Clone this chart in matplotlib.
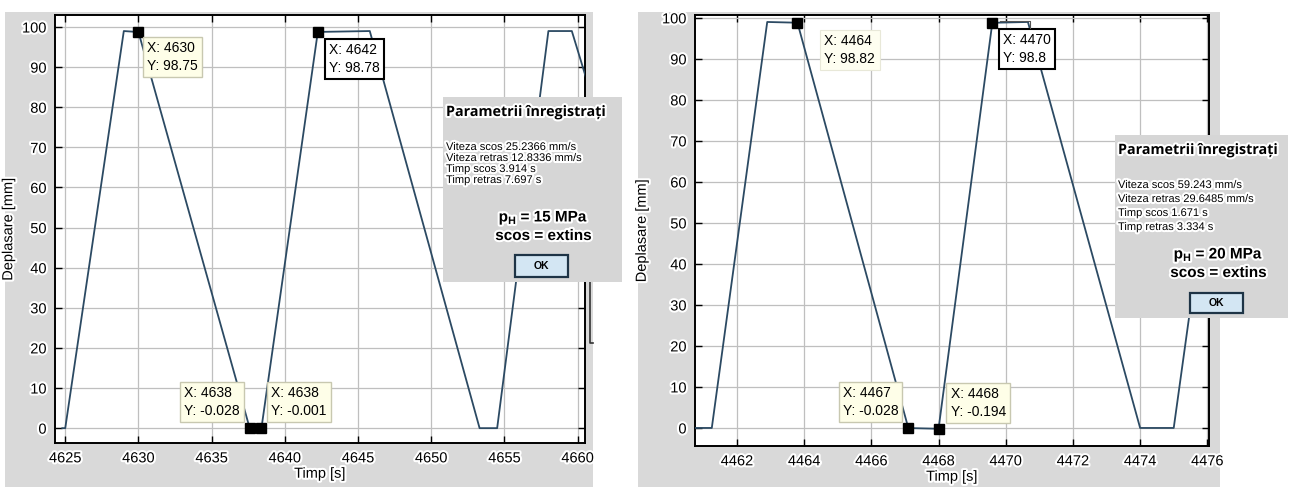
import matplotlib.pyplot as plt
from matplotlib.patches import Rectangle
import matplotlib.patheffects as pe

plt.rcParams['font.family'] = ['Liberation Sans', 'DejaVu Sans']

# left recording (pH = 15 MPa)
left_t = [4624.8, 4625.0, 4629.0, 4630.0, 4637.6, 4638.4, 4642.25, 4645.8, 4653.3, 4654.5, 4658.0, 4659.6, 4660.6]
left_y = [0, 0, 99, 98.75, -0.028, -0.001, 98.78, 99, 0, 0, 99, 99, 87]
left_tip_t = [4630.0, 4642.25, 4637.6, 4638.4]
left_tip_y = [98.75, 98.78, -0.028, -0.001]
left_tip_txt = ["X: 4630\nY: 98.75", "X: 4642\nY: 98.78", "X: 4638\nY: -0.028", "X: 4638\nY: -0.001"]
left_xticks = [4625, 4630, 4635, 4640, 4645, 4650, 4655, 4660]
left_info = ["Viteza scos 25.2366 mm/s", "Viteza retras 12.8336 mm/s", "Timp scos 3.914 s", "Timp retras 7.697 s"]

# right recording (pH = 20 MPa)
right_t = [4460.7, 4461.25, 4462.9, 4463.8, 4467.1, 4468.0, 4469.6, 4470.66, 4474.0, 4475.0, 4476.1]
right_y = [0, 0, 99, 98.82, -0.028, -0.194, 98.8, 99, 0, 0, 65]
right_tip_t = [4463.8, 4469.6, 4467.1, 4468.0]
right_tip_y = [98.82, 98.8, -0.028, -0.194]
right_tip_txt = ["X: 4464\nY: 98.82", "X: 4470\nY: 98.8", "X: 4467\nY: -0.028", "X: 4468\nY: -0.194"]
right_xticks = [4462, 4464, 4466, 4468, 4470, 4472, 4474, 4476]
right_info = ["Viteza scos 59.243 mm/s", "Viteza retras 29.6485 mm/s", "Timp scos 1.671 s", "Timp retras 3.334 s"]

yticks = [0, 10, 20, 30, 40, 50, 60, 70, 80, 90, 100]

W, H = 1296, 487
LINE = '#2c4a63'
GRAY = '#d9d9d9'
halo = [pe.withStroke(linewidth=3, foreground='white')]

fig = plt.figure(figsize=(W/100, H/100), dpi=100)
fig.patch.set_facecolor('white')

def fx(x):
    return x / W
def fy(y):
    return 1 - y / H

def rect(x0, y0, x1, y1, fc, ec='none', lw=0, z=5):
    fig.add_artist(Rectangle((fx(x0), fy(y1)), (x1-x0)/W, (y1-y0)/H, transform=fig.transFigure,
                             facecolor=fc, edgecolor=ec, linewidth=lw, zorder=z))

def ftext(x, y, s, **kw):
    kw.setdefault('zorder', 6)
    fig.text(fx(x), fy(y), s, **kw)

# matlab figure grey
rect(5, 12, 593, 487, GRAY, z=-5)
rect(638, 12, 1220, 487, GRAY, z=-5)

def makeAxes(x0, y0, x1, y1, t, y, xlim, ylim, xticks, tips_t, tips_y, tips_txt, offs, styles):
    ax = fig.add_axes([fx(x0), fy(y1), (x1-x0)/W, (y1-y0)/H])
    ax.set_facecolor('white')
    ax.plot(t, y, color=LINE, lw=1.3, zorder=3)
    ax.set_xlim(xlim)
    ax.set_ylim(ylim)
    ax.set_xticks(xticks)
    ax.set_yticks(yticks)
    ax.grid(True, color='#bfbfbf', lw=0.9)
    ax.tick_params(direction='in', length=5, width=1, top=True, right=True, labelsize=10.5, pad=6)
    for lb in ax.get_xticklabels() + ax.get_yticklabels():
        lb.set_path_effects(halo)
    for s in ax.spines.values():
        s.set_linewidth(1.4)
    ax.set_xlabel('Timp [s]', fontsize=10.5, labelpad=1, path_effects=halo)
    ax.set_ylabel('Deplasare [mm]', fontsize=10.5, labelpad=4, path_effects=halo)
    for i in range(len(tips_t)):
        ax.plot(tips_t[i], tips_y[i], 's', color='black', ms=7, zorder=8)
        dx, dy, ha, va = offs[i]
        fc, ec, lw = styles[i]
        ax.annotate(tips_txt[i], xy=(tips_t[i], tips_y[i]), xytext=(dx, dy), textcoords='offset pixels',
                    ha=ha, va=va, multialignment='left', fontsize=10, linespacing=1.35, zorder=9,
                    bbox=dict(boxstyle='square,pad=0.3', fc=fc, ec=ec, lw=lw))
    return ax

tip_plain = ('#fefee8', '#c8c8b0', 1.0)
tip_sel = ('white', 'black', 1.5)

axL = makeAxes(55, 15, 585, 443, left_t, left_y, (4624.3, 4660.5), (-3.7, 103), left_xticks,
               left_tip_t, left_tip_y, left_tip_txt,
               [(9, -9, 'left', 'top'), (11, -11, 'left', 'top'), (-10, 10, 'right', 'bottom'), (10, 10, 'left', 'bottom')],
               [tip_plain, tip_sel, tip_plain, tip_plain])
axR = makeAxes(695, 15, 1209, 446, right_t, right_y, (4460.75, 4476.05), (-4.4, 100.7), right_xticks,
               right_tip_t, right_tip_y, right_tip_txt,
               [(27, -11, 'left', 'top'), (11, -10, 'left', 'top'), (-10, 10, 'right', 'bottom'), (12, 10, 'left', 'bottom')],
               [('#fefef0', '#e8e8d8', 0.8), tip_sel, tip_plain, tip_plain])
axL.yaxis.set_label_coords(-0.075, 0.5)
axR.yaxis.set_label_coords(-0.09, 0.5)

# leader line of the selected tip on the right plot
fig.add_artist(plt.Line2D([fx(1000), fx(1030), fx(1030)], [fy(21), fy(21), fy(28)], transform=fig.transFigure,
                          color='#555555', lw=0.8, zorder=4))
# window remnant right of the left plot
fig.add_artist(plt.Line2D([fx(590), fx(590), fx(593)], [fy(240), fy(343), fy(343)], transform=fig.transFigure,
                          color='#333333', lw=1.2, zorder=4))

# dialog boxes "Parametrii inregistrati"
def dialog(x0, y0, x1, y1, ty, ly, info, p, py, ok):
    rect(x0, y0, x1, y1, '#d6d6d6')
    ftext(x0 + 3, ty, 'Parametrii înregistrați', fontsize=10.3, fontweight='bold',
          family=['Open Sans', 'DejaVu Sans'], va='center', path_effects=halo)
    for i in range(len(info)):
        ftext(x0 + 3, ly[i], info[i], fontsize=8, va='center', path_effects=halo)
    cx = (ok[0] + ok[2]) / 2
    ftext(cx + 2, py, r'p$_\mathregular{H}$ = ' + p + ' MPa', fontsize=11, fontweight='bold',
          ha='center', va='center', path_effects=halo)
    ftext(cx + 2, py + 18, 'scos = extins', fontsize=11, fontweight='bold',
          ha='center', va='center', path_effects=halo)
    rect(ok[0], ok[1], ok[2], ok[3], '#d3e6f3', '#1e3446', 1.6, z=6)
    ftext((ok[0] + ok[2]) / 2, (ok[1] + ok[3]) / 2, 'OK', fontsize=7.5, fontweight='bold',
          ha='center', va='center', zorder=7)

dialog(443, 97, 622, 282, 112, [147, 158, 169, 180], left_info, '15', 218, (515, 255, 568, 277))
dialog(1115, 135, 1288, 318, 150, [185, 199, 213, 227], right_info, '20', 255, (1190, 293, 1243, 313))

fig.savefig('out.png', dpi=100)
